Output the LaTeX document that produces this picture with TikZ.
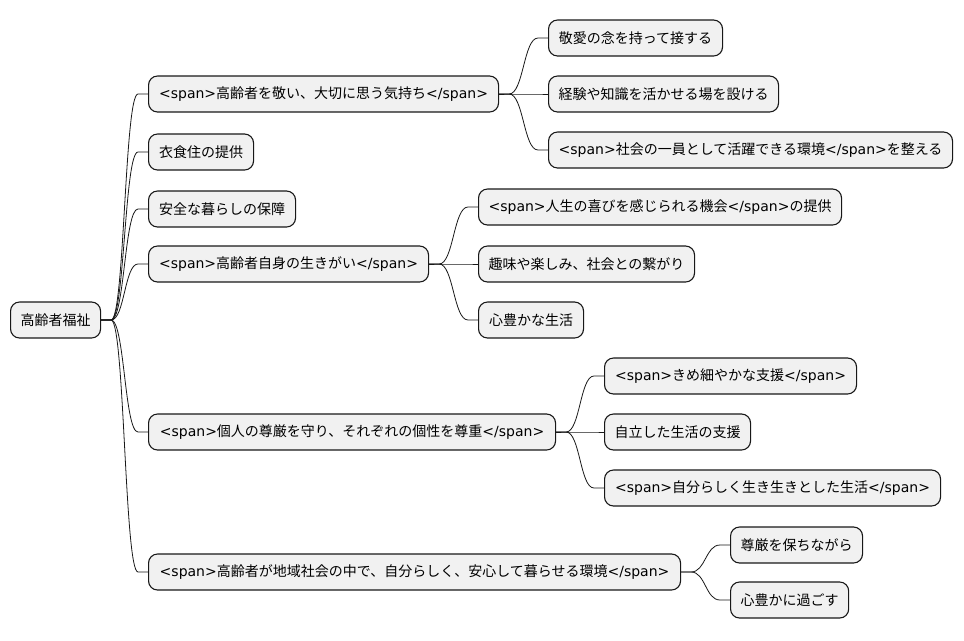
\documentclass[tikz,border=0pt]{standalone}
\usepackage{fontspec}
\setmainfont{Noto Sans CJK JP}
\newfontfamily\latinfont{DejaVu Sans}
\usetikzlibrary{calc}
\definecolor{topicfill}{HTML}{F1F1F1}
\definecolor{topicline}{HTML}{181818}
\newcommand{\spanopen}{{\latinfont <span>}}
\newcommand{\spanclose}{{\latinfont </span>}}

\tikzset{
  topic/.style={draw=topicline, fill=topicfill, line width=1.1pt, rounded corners=9pt,
    anchor=west, minimum height=36pt, inner xsep=10pt, text=black,
    font=\fontsize{14pt}{16pt}\selectfont},
  branch/.style={draw=topicline, line width=0.8pt,
    to path={let \p1=(\tikztostart), \p2=(\tikztotarget) in
      -- (\x1+10pt,\y1)
      .. controls ({(\x1+\x2)/2},\y1) and ({(\x1+\x2)/2},\y2) .. (\x2-10pt,\y2)
      -- (\p2)}}
}

\begin{document}
\begin{tikzpicture}[x=1pt, y=-1pt]
      \useasboundingbox (0,0) rectangle (964,640);

      % Root and first level
      \node[topic, minimum width=90] (root) at (10,320) {高齢者福祉};
      \node[topic, minimum width=350] (respect) at (148,94) {\spanopen 高齢者を敬い、大切に思う気持ち\spanclose};
      \node[topic, minimum width=105] (living) at (148,152) {衣食住の提供};
      \node[topic, minimum width=147] (safety) at (148,209) {安全な暮らしの保障};
      \node[topic, minimum width=280] (purpose) at (148,264) {\spanopen 高齢者自身の生きがい\spanclose};
      \node[topic, minimum width=407] (dignity) at (148,432) {\spanopen 個人の尊厳を守り、それぞれの個性を尊重\spanclose};
      \node[topic, minimum width=532] (community) at (148,572) {\spanopen 高齢者が地域社会の中で、自分らしく、安心して暮らせる環境\spanclose};

      % Second level
      \node[topic, minimum width=174] (care) at (548,38) {敬愛の念を持って接する};
      \node[topic, minimum width=230] (experience) at (548,94) {経験や知識を活かせる場を設ける};
      \node[topic, minimum width=404] (member) at (548,150) {\spanopen 社会の一員として活躍できる環境\spanclose を整える};
      \node[topic, minimum width=363] (joy) at (478,207) {\spanopen 人生の喜びを感じられる機会\spanclose の提供};
      \node[topic, minimum width=216] (hobby) at (478,264) {趣味や楽しみ、社会との繋がり};
      \node[topic, minimum width=105] (rich) at (478,320) {心豊かな生活};
      \node[topic, minimum width=252] (support) at (604,376) {\spanopen きめ細やかな支援\spanclose};
      \node[topic, minimum width=146] (independent) at (604,432) {自立した生活の支援};
      \node[topic, minimum width=336] (lively) at (604,488) {\spanopen 自分らしく生き生きとした生活\spanclose};
      \node[topic, minimum width=132] (keep) at (730,545) {尊厳を保ちながら};
      \node[topic, minimum width=118] (spend) at (730,600) {心豊かに過ごす};

      % Branches
      \path
        (root.east) edge[branch] (respect.west)
        (root.east) edge[branch] (living.west)
        (root.east) edge[branch] (safety.west)
        (root.east) edge[branch] (purpose.west)
        (root.east) edge[branch] (dignity.west)
        (root.east) edge[branch] (community.west)
        (respect.east) edge[branch] (care.west)
        (respect.east) edge[branch] (experience.west)
        (respect.east) edge[branch] (member.west)
        (purpose.east) edge[branch] (joy.west)
        (purpose.east) edge[branch] (hobby.west)
        (purpose.east) edge[branch] (rich.west)
        (dignity.east) edge[branch] (support.west)
        (dignity.east) edge[branch] (independent.west)
        (dignity.east) edge[branch] (lively.west)
        (community.east) edge[branch] (keep.west)
        (community.east) edge[branch] (spend.west);

\end{tikzpicture}
\end{document}
